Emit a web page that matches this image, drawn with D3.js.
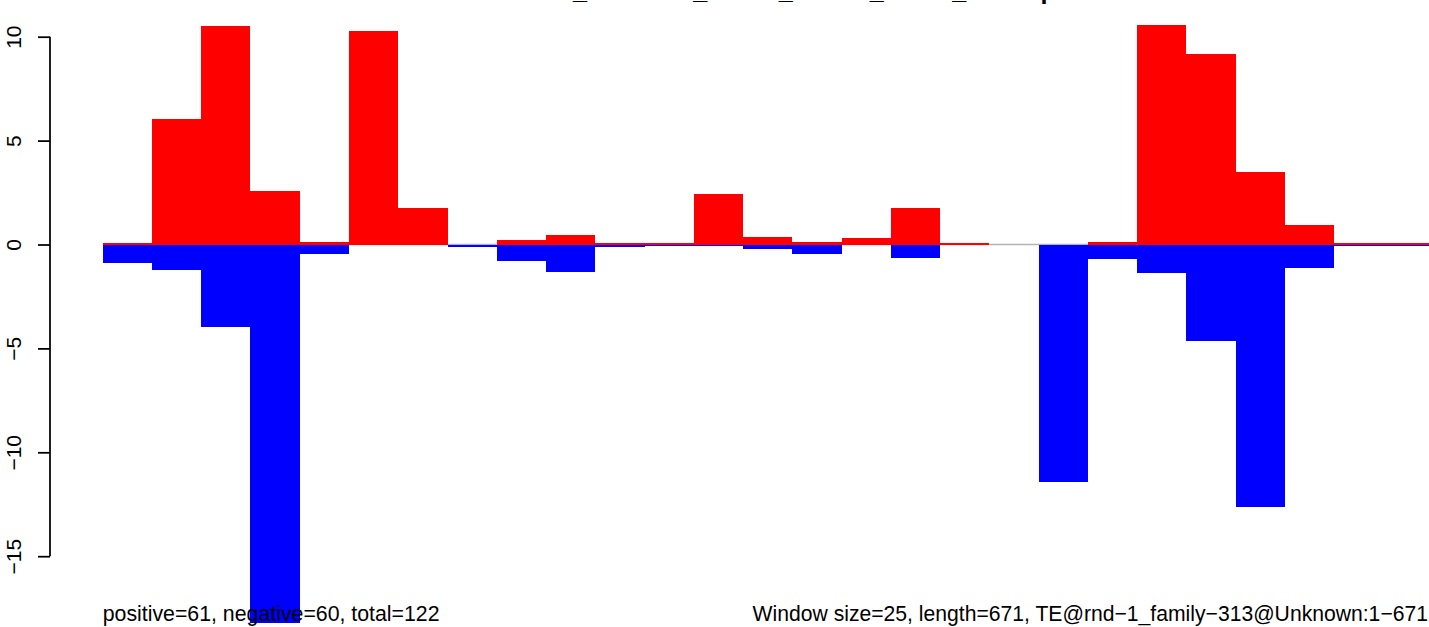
<!DOCTYPE html>
<html>
<head>
<meta charset="utf-8">
<script src="https://cdn.jsdelivr.net/npm/d3@7"></script>
<style>
  html, body { margin: 0; padding: 0; background: #ffffff; }
  svg { display: block; }
  text { font-family: "Liberation Sans", Arial, Helvetica, sans-serif; }
</style>
</head>
<body>
<svg id="chart" width="1429" height="627"></svg>
<script>
// ---- data (window index) ----
const windowSize = 25;
const seqLength = 671;
const windows = d3.range(27); // 27 windows of 25 bp
const positiveValues = [0.09, 6.04, 10.51, 2.57, 0.12, 10.28, 1.76, 0, 0.2, 0.44, 0.08, 0.08, 2.43, 0.38, 0.14, 0.33, 1.76, 0.09, 0, 0, 0.14, 10.56, 9.17, 3.49, 0.94, 0.09, 0.09];
const negativeValues = [-0.9, -1.23, -3.97, -18.2, -0.46, 0, 0, -0.14, -0.77, -1.3, -0.14, -0.09, -0.09, -0.2, -0.44, 0, -0.64, 0, 0, -11.43, -0.72, -1.35, -4.64, -12.63, -1.15, -0.07, -0.07];
const yTicks = [-15, -10, -5, 0, 5, 10];
const titleText = "TE_windows_sense_strand_count_overlap";
const leftNote = "positive=61, negative=60, total=122";
const rightNote = "Window size=25, length=671, TE@rnd\u22121_family\u2212313@Unknown:1\u2212671";

// ---- scales ----
const svg = d3.select("#chart");
const x = d3.scaleLinear().domain([0, seqLength]).range([102.7, 1424.8]);
const y = d3.scaleLinear().domain([-15, 10]).range([556.2, 36.7]);
const plotRight = 1428;

// zero line
svg.append("line")
  .attr("x1", x(0)).attr("x2", plotRight)
  .attr("y1", y(0)).attr("y2", y(0))
  .attr("stroke", "#b4b4b4").attr("stroke-width", 1.6);

// positive bars (red, upward)
svg.append("g").selectAll("rect")
  .data(windows)
  .join("rect")
  .attr("x", i => x(i * windowSize))
  .attr("width", i => x((i + 1) * windowSize) - x(i * windowSize))
  .attr("y", i => y(positiveValues[i]))
  .attr("height", i => y(0) - y(positiveValues[i]))
  .attr("fill", "#ff0000")
  .attr("shape-rendering", "crispEdges");

// negative bars (blue, downward)
svg.append("g").selectAll("rect")
  .data(windows)
  .join("rect")
  .attr("x", i => x(i * windowSize))
  .attr("width", i => x((i + 1) * windowSize) - x(i * windowSize))
  .attr("y", y(0))
  .attr("height", i => y(negativeValues[i]) - y(0))
  .attr("fill", "#0000ff")
  .attr("shape-rendering", "crispEdges");

// y axis
const axis = d3.axisLeft(y)
  .tickValues(yTicks)
  .tickSize(12)
  .tickFormat(d => (d < 0 ? "\u2212" + Math.abs(d) : String(d)));

const gAxis = svg.append("g")
  .attr("transform", "translate(50,0)")
  .call(axis);
gAxis.select(".domain")
  .attr("d", `M0,${y(10)}V${y(-15)}`)
  .attr("stroke", "#000").attr("stroke-width", 1.75);
gAxis.selectAll(".tick line").attr("stroke", "#000").attr("stroke-width", 1.75);
gAxis.selectAll(".tick text")
  .attr("x", null).attr("dy", null)
  .attr("transform", "translate(-29,0) rotate(-90)")
  .attr("text-anchor", "middle")
  .attr("font-size", 21)
  .attr("font-family", "Liberation Sans, Arial, sans-serif")
  .attr("fill", "#000");

// bottom notes
svg.append("text")
  .attr("x", x(0)).attr("y", 621)
  .attr("font-size", 21.3).attr("fill", "#000")
  .text(leftNote);
svg.append("text")
  .attr("x", plotRight).attr("y", 621)
  .attr("text-anchor", "end")
  .attr("font-size", 21.15).attr("fill", "#000")
  .text(rightNote);

// title (mostly above the visible area, as in the reference)
const title = svg.append("text")
  .attr("y", -1)
  .attr("font-size", 25.2)
  .attr("font-weight", "bold")
  .attr("fill", "#000")
  .text(titleText);
const off = title.node().getSubStringLength(0, titleText.indexOf("_"));
title.attr("x", 573 - off);
</script>
</body>
</html>
